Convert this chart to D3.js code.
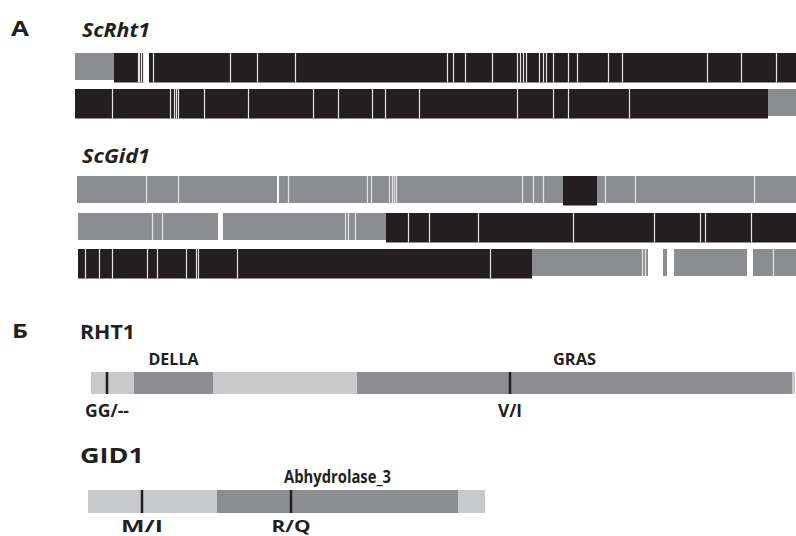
<!DOCTYPE html>
<html><head><meta charset="utf-8">
<script src="https://cdn.jsdelivr.net/npm/d3@7"></script>
<style>html,body{margin:0;padding:0;background:#fff}svg{display:block}</style>
</head><body>
<svg id="chart" width="796" height="536"></svg>
<script>
// ---------- DATA ----------
// Panel A: alignment rows (positions along the alignment, 0..721)
const alignLength = 721;
const rhtRowSegments = [
  [[0, 39, "other"], [39, 69, "match"], [74, 721, "match"]],
  [[0, 693, "match"], [693, 721, "other"]]
];
const rhtRowSnps = [
  [63, 64, 66, 68, 78, 155, 182, 220, 372, 378, 390, 417, 442, 445, 448, 451, 464, 468, 471, 478, 493, 502, 533, 547, 632, 666, 701],
  [37, 95, 99, 101, 103, 129, 173, 238, 263, 297, 310, 344, 442, 478, 493, 554]
];
const gidRowSegments = [
  [[2, 202, "other"], [204, 488, "other"], [488, 522, "match"], [522, 721, "other"]],
  [[3, 143, "other"], [148, 311, "other"], [311, 721, "match"]],
  [[3, 457, "match"], [457, 573, "other"], [588, 592, "other"], [599, 672, "other"], [678, 721, "other"]]
];
const gidRowSnps = [
  [71, 103, 213, 292, 296, 314, 317, 319, 321, 447, 458, 468, 530, 560, 679],
  [77, 87, 270, 273, 280, 333, 354, 403, 498, 579, 625, 630, 676],
  [10, 24, 37, 72, 82, 111, 121, 123, 162, 415, 567, 570, 698]
];

// Panel B: protein schemes
const rhtLength = 704;
const rhtDomains = [{name: "DELLA", start: 43, end: 122}, {name: "GRAS", start: 266, end: 701}];
const rhtMutations = [{pos: 16, label: "GG/--"}, {pos: 419, label: "V/I"}];
const gidLength = 397;
const gidDomains = [{name: "Abhydrolase_3", start: 129, end: 370}];
const gidMutations = [{pos: 54, label: "M/I"}, {pos: 203, label: "R/Q"}];

// ---------- STYLE / LAYOUT ----------
const C = {black: "#231f20", gray: "#8c8d91", light: "#c8c9cb", line: "#e4e4e4", text: "#231f20"};
const FONT = "'Open Sans', 'DejaVu Sans', sans-serif";
const svg = d3.select("#chart");

function txt(t, x, y, size, len, opts = {}) {
  const el = svg.append("text").attr("x", x).attr("y", y).text(t)
    .attr("font-family", FONT).attr("font-size", size).attr("font-weight", "bold")
    .attr("fill", C.text).attr("text-anchor", opts.anchor || "start");
  if (opts.italic) el.attr("font-style", "italic");
  if (len) el.attr("textLength", len).attr("lengthAdjust", "spacingAndGlyphs");
  return el;
}

// Panel A
const xA = d3.scaleLinear().domain([0, alignLength]).range([75, 796]);
const rowTops = [53, 89, 176, 213, 249];
const hMatch = 29.5, hOther = 27;
const allSegs = rhtRowSegments.concat(gidRowSegments);
const allSnps = rhtRowSnps.concat(gidRowSnps);

txt("A", 11, 36, 21, 18);
txt("ScRht1", 82, 37, 20, 68, {italic: true});
txt("ScGid1", 82, 163, 20, 68, {italic: true});

allSegs.forEach((segs, i) => {
  const g = svg.append("g");
  g.selectAll("rect").data(segs).join("rect")
    .attr("x", d => xA(d[0])).attr("width", d => xA(d[1]) - xA(d[0]))
    .attr("y", rowTops[i]).attr("height", d => d[2] === "match" ? hMatch : hOther)
    .attr("fill", d => d[2] === "match" ? C.black : C.gray);
  const kindAt = p => { const s = segs.find(d => p >= d[0] && p <= d[1]); return s ? s[2] : "other"; };
  g.selectAll("line").data(allSnps[i]).join("line")
    .attr("x1", d => xA(d) + 0.5).attr("x2", d => xA(d) + 0.5)
    .attr("y1", rowTops[i]).attr("y2", d => rowTops[i] + (kindAt(d) === "match" ? hMatch : hOther))
    .attr("stroke", C.line).attr("stroke-width", 1.2);
});

// Panel B
txt("Б", 12, 338, 20, 16);

function scheme(length, domains, muts, x0, x1, top, h, title, titleY, titleSize, titleLen, domSize, domLens, labY, labSize, labLens) {
  const x = d3.scaleLinear().domain([0, length]).range([x0, x1]);
  txt(title, 80, titleY, titleSize, titleLen);
  svg.append("rect").attr("x", x(0)).attr("y", top).attr("width", x(length) - x(0)).attr("height", h).attr("fill", C.light);
  svg.selectAll(null).data(domains).join("rect")
    .attr("x", d => x(d.start)).attr("width", d => x(d.end) - x(d.start))
    .attr("y", top).attr("height", h).attr("fill", C.gray);
  domains.forEach((d, i) => txt(d.name, (x(d.start) + x(d.end)) / 2, top - 7, domSize, domLens[i], {anchor: "middle"}));
  svg.selectAll(null).data(muts).join("line")
    .attr("x1", d => x(d.pos)).attr("x2", d => x(d.pos))
    .attr("y1", top).attr("y2", top + h).attr("stroke", C.black).attr("stroke-width", 2.5);
  muts.forEach((m, i) => txt(m.label, x(m.pos), labY, labSize, labLens[i], {anchor: "middle"}));
}

scheme(rhtLength, rhtDomains, rhtMutations, 91, 795, 372, 22, "RHT1", 339, 19, 55, 16, [50, 43], 417, 17, [44, 24]);
scheme(gidLength, gidDomains, gidMutations, 88, 485, 490, 23, "GID1", 463, 21, 64, 17, [107], 532, 16, [42, 39]);
</script>
</body></html>
